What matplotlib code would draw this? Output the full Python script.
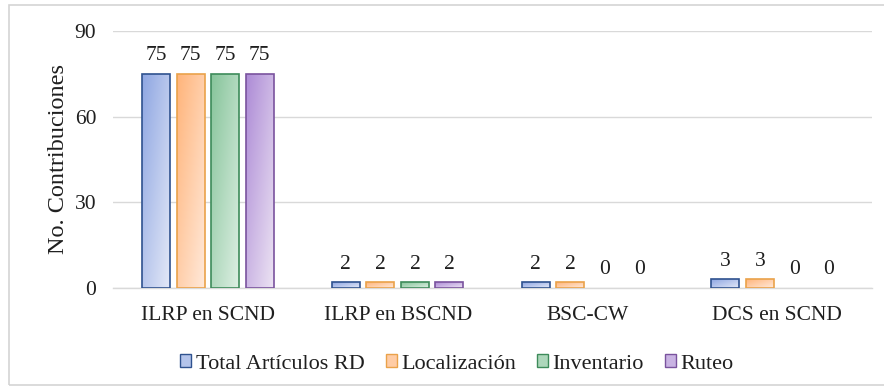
import numpy as np
import matplotlib
matplotlib.use("Agg")
import matplotlib.pyplot as plt
from matplotlib.colors import LinearSegmentedColormap
from matplotlib.patches import Patch, Rectangle

categories = ["ILRP en SCND", "ILRP en BSCND", "BSC-CW", "DCS en SCND"]
series = ["Total Artículos RD", "Localización", "Inventario", "Ruteo"]
total_rd = [75, 2, 2, 3]
localizacion = [75, 2, 2, 3]
inventario = [75, 2, 0, 0]
ruteo = [75, 2, 0, 0]
values = [total_rd, localizacion, inventario, ruteo]

# (dark fill, light fill, edge) per series
palette = [
    ("#8ea6e2", "#e3e8f7", "#2f528f"),
    ("#ffb47a", "#ffe9da", "#eaa24a"),
    ("#86c49a", "#ddefe3", "#3d8b5a"),
    ("#ad8bd6", "#ece3f3", "#7a539e"),
]

plt.rcParams["font.family"] = ["Liberation Serif", "DejaVu Serif"]
txt = "#1f1f1f"

fig = plt.figure(figsize=(8.84, 3.88), dpi=100)
fig.patches.append(Rectangle((9 / 884, 3 / 388), 1.0, 380 / 388, transform=fig.transFigure,
                             fill=False, edgecolor="#d4d4d4", linewidth=1.2))
ax = fig.add_axes([113 / 884, 1 - 288 / 388, (872 - 113) / 884, (288 - 31) / 388])

x = np.arange(len(categories))
pitch = 0.182
width = 0.147
offsets = (np.arange(len(series)) - 1.5) * pitch

# diagonal gradient: darker top-left, lighter bottom-right
gy, gx = np.mgrid[0:1:64j, 0:1:64j]
grad = (gx + gy) / 2

for i, (vals, (dark, light, edge)) in enumerate(zip(values, palette)):
    cmap = LinearSegmentedColormap.from_list(f"g{i}", [dark, light])
    bars = ax.bar(x + offsets[i], vals, width, facecolor="none", edgecolor=edge,
                  linewidth=[1.2 if v > 0 else 0 for v in vals], zorder=3)
    for bar, v in zip(bars, vals):
        if v > 0:
            bx, bw = bar.get_x(), bar.get_width()
            im = ax.imshow(grad, cmap=cmap, extent=[bx, bx + bw, 0, v], origin="upper",
                           aspect="auto", zorder=2, interpolation="bilinear")
            im.set_clip_path(bar)
        ax.text(bar.get_x() + bar.get_width() / 2, v + 3.0, str(v), ha="center",
                va="bottom", fontsize=15.5, color=txt)

ax.set_xlim(-0.5, len(categories) - 0.5)
ax.set_ylim(0, 90)
ax.set_yticks([0, 30, 60, 90])
ax.set_xticks(x)
ax.set_xticklabels(categories, fontsize=15.5, color=txt)
ax.tick_params(axis="y", labelsize=15.5, labelcolor=txt, length=0, pad=12)
ax.tick_params(axis="x", length=0, pad=13)
ax.grid(axis="y", color="#d9d9d9", linewidth=1.0, zorder=0)
ax.set_axisbelow(True)
for s in ["top", "right", "left"]:
    ax.spines[s].set_visible(False)
ax.spines["bottom"].set_color("#d9d9d9")
ax.spines["bottom"].set_linewidth(1.0)
ax.set_ylabel("No. Contribuciones", fontsize=17.5, color=txt, labelpad=4)

handles = [Patch(facecolor=LinearSegmentedColormap.from_list("m", [d, l])(0.45), edgecolor=e, linewidth=1.0)
           for d, l, e in palette]
fig.legend(handles, series, loc="center", bbox_to_anchor=(457 / 884, 1 - 364 / 388), ncol=4,
           frameon=False, fontsize=16, handlelength=0.5, handleheight=0.5, handletextpad=0.2,
           columnspacing=0.95, labelcolor=txt, borderpad=0)

fig.savefig("out.png", dpi=100)
